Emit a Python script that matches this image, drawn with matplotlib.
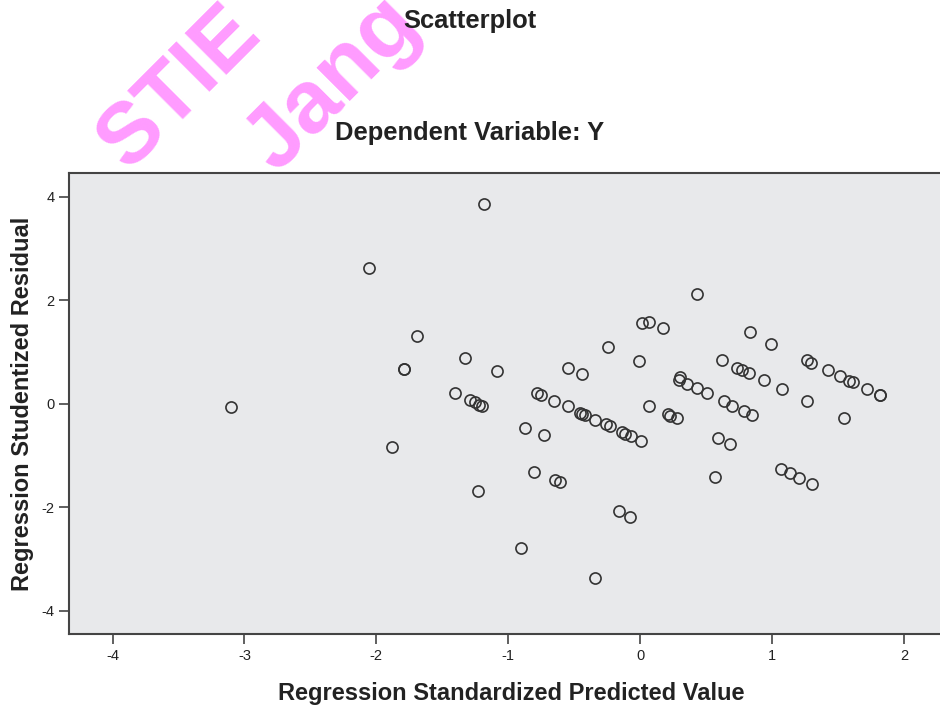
import matplotlib
matplotlib.use("Agg")
import matplotlib.pyplot as plt

plt.rcParams['font.family'] = ['Liberation Sans', 'DejaVu Sans']
plt.rcParams['axes.unicode_minus'] = False

# Regression standardized predicted value vs studentized residual
pred = [-3.103, -2.057, -1.181, -1.691, -1.331, -1.789, -1.789, -1.086, -1.400, -1.286,
        -1.253, -1.221, -1.196, -1.879, -1.228, -0.779, -0.753, -0.654, -0.548, -0.457,
        -0.438, -0.419, -0.343, -0.260, -0.230, -0.139, -0.112, -0.071, 0.009, -0.876,
        -0.729, -0.802, -0.647, -0.610, -0.904, -0.345, -0.160, -0.073, -0.550, -0.444,
        -0.243, -0.012, 0.011, 0.070, 0.176, 0.430, 0.066, 0.212, 0.225, 0.276,
        0.301, 0.297, 0.352, 0.430, 0.507, 0.623, 0.637, 0.699, 0.788, 0.851,
        0.587, 0.678, 0.570, 0.738, 0.775, 0.826, 0.837, 0.996, 0.939, 1.074,
        1.264, 1.299, 1.423, 1.516, 1.586, 1.614, 1.717, 1.821, 1.821, 1.265,
        1.543, 1.065, 1.137, 1.202, 1.306]
resid = [-0.060, 2.614, 3.861, 1.317, 0.893, 0.667, 0.667, 0.634, 0.204, 0.069,
         0.031, -0.027, -0.046, -0.827, -1.685, 0.218, 0.179, 0.060, -0.050, -0.175,
         -0.200, -0.220, -0.303, -0.389, -0.432, -0.551, -0.576, -0.625, -0.711, -0.457,
         -0.611, -1.322, -1.469, -1.511, -2.784, -3.368, -2.065, -2.180, 0.700, 0.576,
         1.107, 0.835, 1.563, 1.573, 1.473, 2.113, -0.035, -0.204, -0.233, -0.283,
         0.526, 0.465, 0.391, 0.307, 0.210, 0.840, 0.050, -0.033, -0.137, -0.214,
         -0.663, -0.769, -1.409, 0.700, 0.661, 0.600, 1.380, 1.162, 0.468, 0.295,
         0.840, 0.798, 0.648, 0.538, 0.449, 0.420, 0.287, 0.166, 0.166, 0.054,
         -0.272, -1.257, -1.342, -1.425, -1.546]

xticks = [-4, -3, -2, -1, 0, 1, 2]
yticks = [-4, -2, 0, 2, 4]

fig = plt.figure(figsize=(9.4, 7.08), dpi=100)
ax = fig.add_axes([0.0734, 0.1041, 0.93, 0.651])
ax.set_facecolor('#E8E9EB')

ax.plot(pred, resid, linestyle='none', marker='o', markersize=8,
        markerfacecolor='none', markeredgecolor='#333333', markeredgewidth=1.2)

ax.set_xlim(-4.33, 2.298)
ax.set_ylim(-4.45, 4.45)
ax.set_xticks(xticks)
ax.set_yticks(yticks)
ax.tick_params(direction='out', length=7, width=1.2, color='#444444',
               labelsize=10.5, labelcolor='#222222')
for side in ['left', 'bottom', 'top']:
    ax.spines[side].set_color('#444444')
    ax.spines[side].set_linewidth(1.5)
ax.spines['right'].set_visible(False)

ax.set_xlabel('Regression Standardized Predicted Value', fontsize=17,
              fontweight='bold', color='#222222')
ax.set_ylabel('Regression Studentized Residual', fontsize=17,
              fontweight='bold', color='#222222')
ax.xaxis.set_label_coords(0.506, -0.103)
ax.yaxis.set_label_coords(-0.0395, 0.5)

# watermark
fig.text(180 / 940, 1 - 88 / 708, 'STIE', fontsize=62, fontweight='bold',
         color='#FF9BFF', rotation=45, ha='center', va='center',
         rotation_mode='anchor', zorder=0)
fig.text(333 / 940, 1 - 84 / 708, 'Jang', fontsize=64, fontweight='bold',
         color='#FF9BFF', rotation=45, ha='center', va='center',
         rotation_mode='anchor', zorder=0)

fig.text(470 / 940, 1 - 21 / 708, 'Scatterplot', fontsize=18.4, fontweight='bold',
         color='#222222', ha='center', va='center', zorder=5)
fig.text(470 / 940, 1 - 133 / 708, 'Dependent Variable: Y', fontsize=18.4,
         fontweight='bold', color='#222222', ha='center', va='center', zorder=5)

fig.savefig('out.png', dpi=100)
